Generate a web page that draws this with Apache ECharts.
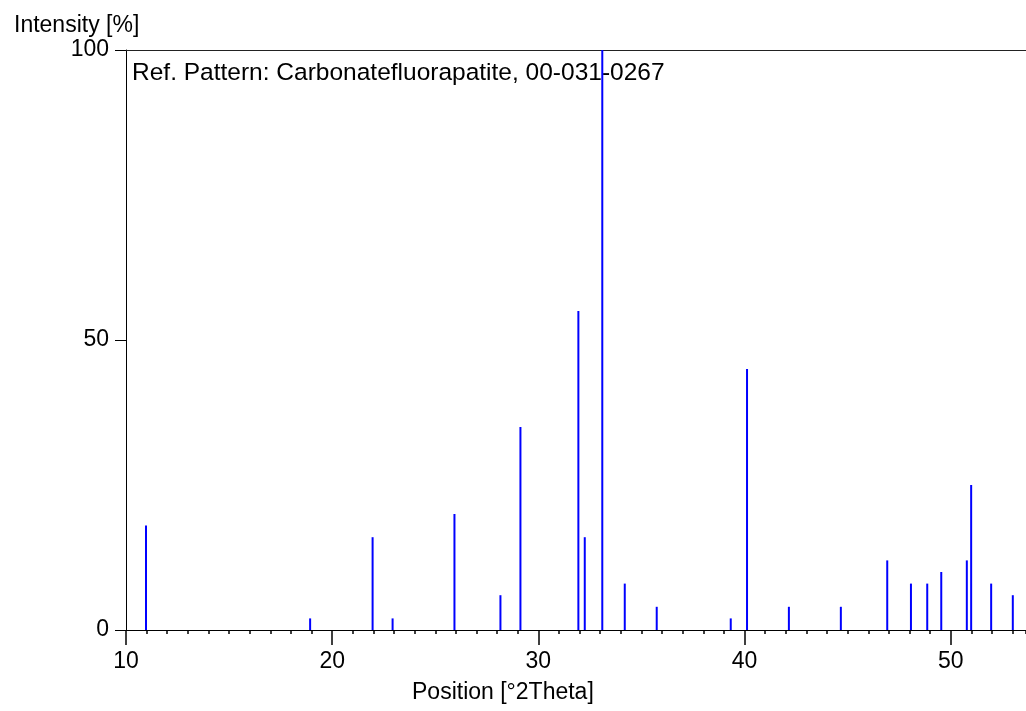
<!DOCTYPE html>
<html>
<head>
<meta charset="utf-8">
<script src="https://cdn.jsdelivr.net/npm/echarts@6/dist/echarts.min.js"></script>
<style>
html,body{margin:0;padding:0;background:#fff;}
#chart{width:1026px;height:711px;}
</style>
</head>
<body>
<div id="chart"></div>
<script>
// Reference pattern peaks (position in °2Theta, relative intensity in %)
const positions   = [10.97, 18.93, 21.96, 22.93, 25.93, 28.16, 29.13, 31.94, 32.25, 33.10, 34.19, 35.74, 39.33, 40.12, 42.15, 44.67, 46.92, 48.07, 48.86, 49.54, 50.78, 50.99, 51.96, 53.01];
const intensities = [18, 2, 16, 2, 20, 6, 35, 55, 16, 100, 8, 4, 2, 45, 4, 4, 12, 8, 8, 10, 12, 25, 8, 6];
const xTickLabels = ['10', '20', '30', '40', '50'];
const yTickLabels = ['0', '50', '100'];
const refTitle = 'Ref. Pattern: Carbonatefluorapatite, 00-031-0267';
const xName = 'Position [°2Theta]';
const yName = 'Intensity [%]';

const FONT = '"Liberation Sans", Arial, sans-serif';
const X_MIN = 10, X_MAX = 53.65;

const chart = echarts.init(document.getElementById('chart'), null, {renderer: 'canvas'});
const peaks = positions.map((p, i) => [p, intensities[i]]);

chart.setOption({
  animation: false,
  backgroundColor: '#ffffff',
  grid: {left: 126, top: 50, right: 0, bottom: 81, containLabel: false},
  xAxis: [
    { // main axis: line, major ticks, labels
      type: 'value', position: 'bottom', min: X_MIN, max: X_MAX, interval: 10,
      axisLine: {show: true, lineStyle: {color: '#000', width: 1}},
      axisTick: {show: true, inside: false, length: 15, lineStyle: {color: '#000', width: 1.5}},
      axisLabel: {
        show: true, margin: 20, color: '#000', fontFamily: FONT, fontSize: 23,
        showMaxLabel: false,
        formatter: v => xTickLabels.indexOf(String(Math.round(v))) >= 0 && Math.abs(v - Math.round(v)) < 1e-6 ? String(Math.round(v)) : ''
      },
      splitLine: {show: false}
    },
    { // minor ticks every 1°
      type: 'value', position: 'bottom', min: X_MIN, max: X_MAX, interval: 1,
      axisLine: {show: false},
      axisTick: {show: true, inside: false, length: 4, lineStyle: {color: '#000', width: 1.5}},
      axisLabel: {show: false},
      splitLine: {show: false}
    },
    { // top frame line
      type: 'value', position: 'top', min: X_MIN, max: X_MAX,
      axisLine: {show: true, lineStyle: {color: '#222', width: 1}},
      axisTick: {show: false}, axisLabel: {show: false}, splitLine: {show: false}
    }
  ],
  yAxis: [{
    type: 'value', position: 'left', min: 0, max: 100, interval: 50,
    axisLine: {show: true, lineStyle: {color: '#000', width: 1}},
    axisTick: {show: true, inside: false, length: 11, lineStyle: {color: '#000', width: 1}},
    axisLabel: {
      show: true, margin: 17, color: '#000', fontFamily: FONT, fontSize: 23,
      padding: [6, 0, 0, 0],
      formatter: v => yTickLabels.indexOf(String(v)) >= 0 ? String(v) : ''
    },
    splitLine: {show: false}
  }],
  graphic: [
    {type: 'text', left: 14, top: 14, style: {text: yName, font: '23px ' + FONT, fill: '#000'}},
    {type: 'text', left: 412, top: 681, style: {text: xName, font: '23px ' + FONT, fill: '#000'}},
    {type: 'text', left: 132, top: 61, style: {text: refTitle, font: '24.5px ' + FONT, fill: '#000'}}
  ],
  series: [{
    type: 'bar',
    xAxisIndex: 0, yAxisIndex: 0,
    data: peaks,
    barWidth: 2,
    itemStyle: {color: '#0000ff'},
    silent: true
  }]
});
</script>
</body>
</html>
